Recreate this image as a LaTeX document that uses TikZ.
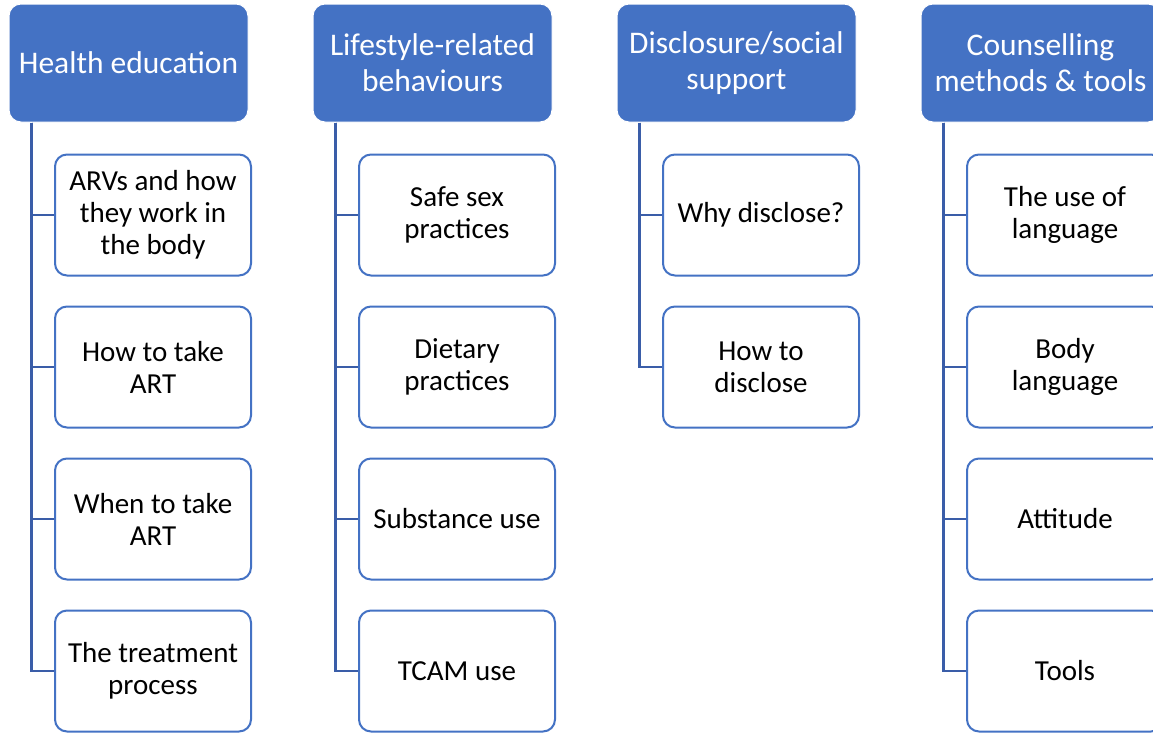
\documentclass[tikz,border=0pt]{standalone}
\usepackage{fontspec}
\setmainfont{Carlito}
\definecolor{hdblue}{HTML}{4472C4}
\definecolor{lnblue}{HTML}{3A5DA8}
\tikzset{
  head/.style={fill=hdblue, draw=white, line width=1pt, rounded corners=12pt,
    minimum width=239pt, minimum height=118pt, text=white, align=center,
    font=\fontsize{31.5}{36}\selectfont, inner sep=0pt},
  item/.style={fill=white, draw=hdblue, line width=2pt, rounded corners=12pt,
    minimum width=196pt, minimum height=121pt, align=center,
    font=\fontsize{29}{32}\selectfont, inner sep=0pt},
  link/.style={draw=lnblue, line width=2.5pt}
}
\begin{document}
\begin{tikzpicture}[x=1pt,y=-1pt]
\clip (0,0) rectangle (1153,732);
\fill[white] (0,0) rectangle (1153,732);

% column headers
\node[head] (h1) at (128.5,63) {Health education};
\node[head] (h2) at (432.5,63) {Lifestyle-related\\behaviours};
\node[head] (h3) at (736.5,63) {Disclosure/social\\support};
\node[head] (h4) at (1040.5,63) {Counselling\\methods \& tools};

% column 1
\node[item] (a1) at (153,215) {ARVs and how\\they work in\\the body};
\node[item] (a2) at (153,367) {How to take\\ART};
\node[item] (a3) at (153,519) {When to take\\ART};
\node[item] (a4) at (153,671) {The treatment\\process};

% column 2
\node[item] (b1) at (457,215) {Safe sex\\practices};
\node[item] (b2) at (457,367) {Dietary\\practices};
\node[item] (b3) at (457,519) {Substance use};
\node[item] (b4) at (457,671) {TCAM use};

% column 3
\node[item] (c1) at (761,215) {Why disclose?};
\node[item] (c2) at (761,367) {How to\\disclose};

% column 4
\node[item] (d1) at (1065,215) {The use of\\language};
\node[item] (d2) at (1065,367) {Body\\language};
\node[item] (d3) at (1065,519) {Attitude};
\node[item] (d4) at (1065,671) {Tools};

% connectors
\foreach \h/\list in {h1/{a1,a2,a3,a4}, h2/{b1,b2,b3,b4}, h3/{c1,c2}, h4/{d1,d2,d3,d4}}{
  \foreach \c in \list{
    \draw[link] ([xshift=23pt]\h.south west) |- (\c.west);
  }
}
\end{tikzpicture}
\end{document}
